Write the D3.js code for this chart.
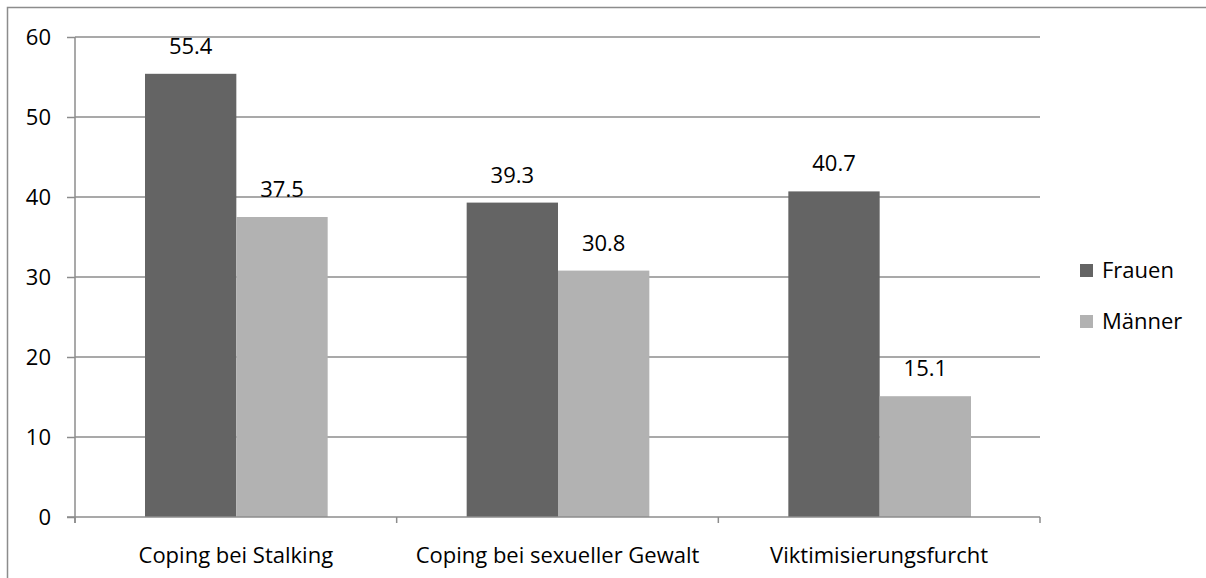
<!DOCTYPE html>
<html>
<head>
<meta charset="utf-8">
<script src="https://cdn.jsdelivr.net/npm/d3@7"></script>
<style>
  body { margin: 0; background: #fff; }
  svg { display: block; font-family: "Open Sans", "Noto Sans", sans-serif; }
</style>
</head>
<body>
<svg id="chart" width="1206" height="578"></svg>
<script>
var categories = ["Coping bei Stalking", "Coping bei sexueller Gewalt", "Viktimisierungsfurcht"];
var seriesNames = ["Frauen", "Männer"];
var frauen = [55.4, 39.3, 40.7];
var maenner = [37.5, 30.8, 15.1];
var yTicks = [0, 10, 20, 30, 40, 50, 60];
var colors = ["#646464", "#b2b2b2"];

const margin = {top: 37, right: 166, bottom: 61, left: 75};
const fs = "22px";

var svg = d3.select("#chart");
var width = +svg.attr("width");
var height = +svg.attr("height");
var innerWidth = width - margin.left - margin.right;
var innerHeight = height - margin.top - margin.bottom;

// outer frame (left + top only visible)
svg.append("path")
    .attr("d", "M7.5,578 V7.5 H1206")
    .attr("fill", "none")
    .attr("stroke", "#8c8c8c")
    .attr("stroke-width", 1.5);

var g = svg.append("g").attr("transform", `translate(${margin.left},${margin.top})`);

var x0 = d3.scaleBand().domain(categories).range([0, innerWidth]).paddingInner(0).paddingOuter(0);
var x1 = d3.scaleBand().domain(seriesNames).range([70, x0.bandwidth() - 69]);
var y = d3.scaleLinear().domain([0, 60]).range([innerHeight, 0]);

// gridlines
g.selectAll(".grid").data(yTicks.slice(1)).enter().append("line")
    .attr("x1", 0).attr("x2", innerWidth)
    .attr("y1", d => y(d)).attr("y2", d => y(d))
    .attr("stroke", "#8c8c8c").attr("stroke-width", 1.5);

var rows = categories.map((c, i) => ({cat: c, values: [frauen[i], maenner[i]]}));

var groups = g.selectAll(".grp").data(rows).enter().append("g")
    .attr("transform", d => `translate(${x0(d.cat)},0)`);

groups.selectAll("rect").data(d => d.values.map((v, j) => ({key: seriesNames[j], v: v, j: j})))
    .enter().append("rect")
    .attr("x", d => x1(d.key))
    .attr("width", x1.bandwidth())
    .attr("y", d => y(d.v))
    .attr("height", d => innerHeight - y(d.v))
    .attr("fill", d => colors[d.j]);

groups.selectAll(".val").data(d => d.values.map((v, j) => ({key: seriesNames[j], v: v})))
    .enter().append("text")
    .attr("x", d => x1(d.key) + x1.bandwidth() / 2)
    .attr("y", d => y(d.v) - 20)
    .attr("text-anchor", "middle")
    .style("font-size", fs)
    .style("fill", "#000")
    .text(d => d.v.toFixed(1));

// y axis
var yAxis = d3.axisLeft(y).tickValues(yTicks).tickSize(8).tickPadding(16);
var ya = g.append("g").call(yAxis);
ya.select(".domain").attr("stroke", "#8c8c8c").attr("stroke-width", 1.5).attr("d", `M0,${innerHeight + 6}V0`);
ya.selectAll(".tick line").attr("stroke", "#8c8c8c").attr("stroke-width", 1.5);
ya.selectAll(".tick text").style("font-size", fs).style("font-family", "'Open Sans', sans-serif").attr("fill", "#000");

// x axis
var xa = g.append("g").attr("transform", `translate(0,${innerHeight})`);
xa.append("line").attr("x1", -8).attr("x2", innerWidth).attr("stroke", "#8c8c8c").attr("stroke-width", 1.5);
var bounds = [0].concat(categories.map(c => x0(c) + x0.bandwidth()));
xa.selectAll(".xt").data(bounds).enter().append("line")
    .attr("x1", d => d).attr("x2", d => d).attr("y1", 0).attr("y2", 6)
    .attr("stroke", "#8c8c8c").attr("stroke-width", 1.5);
xa.selectAll(".xl").data(categories).enter().append("text")
    .attr("x", d => x0(d) + x0.bandwidth() / 2)
    .attr("y", 46)
    .attr("text-anchor", "middle")
    .style("font-size", fs)
    .text(d => d);

// legend
var legend = svg.append("g").attr("transform", "translate(1080,264)");
seriesNames.forEach((s, i) => {
    var lg = legend.append("g").attr("transform", `translate(0,${i * 51})`);
    lg.append("rect").attr("width", 13).attr("height", 13).attr("fill", colors[i]);
    lg.append("text").attr("x", 22).attr("y", 14).style("font-size", fs).text(s);
});
</script>
</body>
</html>
